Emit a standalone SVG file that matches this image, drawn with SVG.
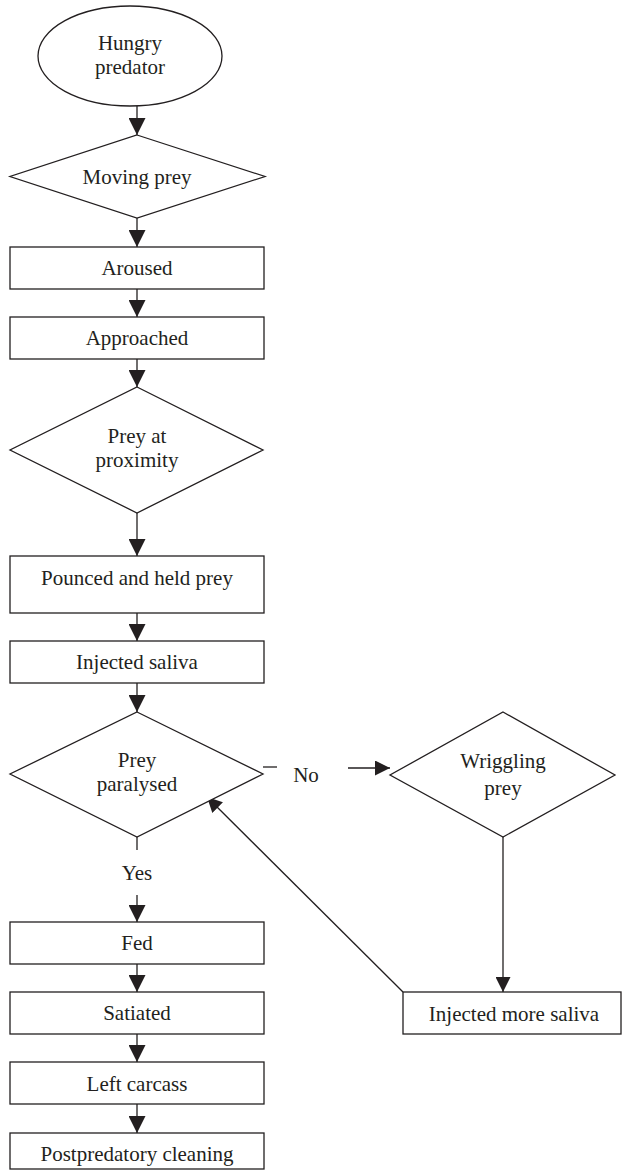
<svg xmlns="http://www.w3.org/2000/svg" width="622" height="1172" viewBox="0 0 622 1172">
<style>
.shape{fill:#fff;stroke:#231f20;stroke-width:1.3}
.ln{fill:none;stroke:#231f20;stroke-width:1.3}
.a1{marker-end:url(#ah)}
.a2{marker-end:url(#ah2)}
text{font-family:'Liberation Serif','Times New Roman',Tinos,'DejaVu Serif',serif;font-size:21px;fill:#231f20;text-anchor:middle}
</style>
<defs>
<marker id="ah" viewBox="0 0 10 10" refX="10" refY="5" markerWidth="17" markerHeight="17" markerUnits="userSpaceOnUse" orient="auto">
<path d="M0,0 L10,5 L0,10 z" fill="#231f20"/>
</marker>
<marker id="ah2" viewBox="0 0 10 10" refX="10" refY="5" markerWidth="15" markerHeight="15" markerUnits="userSpaceOnUse" orient="auto">
<path d="M0,0 L10,5 L0,10 z" fill="#231f20"/>
</marker>
</defs>
<rect width="622" height="1172" fill="#fff"/>
<g id="connectors">
<line class="ln a1" x1="137" y1="106" x2="137" y2="135"/>
<line class="ln a1" x1="137" y1="218" x2="137" y2="247"/>
<line class="ln a1" x1="137" y1="289" x2="137" y2="317"/>
<line class="ln a1" x1="137" y1="359" x2="137" y2="387"/>
<line class="ln a1" x1="137" y1="513" x2="137" y2="556"/>
<line class="ln a1" x1="137" y1="613" x2="137" y2="641"/>
<line class="ln a1" x1="137" y1="683" x2="137" y2="712"/>
<line class="ln" x1="137" y1="837" x2="137" y2="850"/>
<line class="ln a1" x1="137" y1="895" x2="137" y2="922"/>
<line class="ln a1" x1="137" y1="964" x2="137" y2="992"/>
<line class="ln a1" x1="137" y1="1034" x2="137" y2="1062"/>
<line class="ln a1" x1="137" y1="1104" x2="137" y2="1133"/>
<line class="ln" x1="263" y1="767" x2="277" y2="767"/>
<line class="ln a2" x1="348" y1="768" x2="390" y2="768"/>
<line class="ln a2" x1="503" y1="837" x2="503" y2="992"/>
<line class="ln a2" x1="403" y1="992" x2="207" y2="797"/>
<text x="306" y="782" font-family="Liberation Serif, serif">No</text>
<text x="137" y="880" font-family="Liberation Serif, serif">Yes</text>
</g>
<g id="hungry">
<ellipse class="shape" cx="130" cy="56" rx="92" ry="50"/>
<text x="130" y="50">Hungry</text>
<text x="130" y="74">predator</text>
</g>
<g id="moving">
<polygon class="shape" points="137,135 265,176.5 137,218 10,176.5"/>
<text x="137" y="184">Moving prey</text>
</g>
<g id="aroused">
<rect class="shape" x="10" y="247" width="254" height="42"/>
<text x="137" y="275">Aroused</text>
</g>
<g id="approached">
<rect class="shape" x="10" y="317" width="254" height="42"/>
<text x="137" y="345">Approached</text>
</g>
<g id="proximity">
<polygon class="shape" points="137,387 263,450 137,513 10,450"/>
<text x="137" y="443">Prey at</text>
<text x="137" y="467">proximity</text>
</g>
<g id="pounced">
<rect class="shape" x="10" y="556" width="254" height="57"/>
<text x="137" y="585">Pounced and held prey</text>
</g>
<g id="injected">
<rect class="shape" x="10" y="641" width="254" height="42"/>
<text x="137" y="669">Injected saliva</text>
</g>
<g id="paralysed">
<polygon class="shape" points="137,712 263,774 137,837 10,774"/>
<text x="137" y="767">Prey</text>
<text x="137" y="791">paralysed</text>
</g>
<g id="wriggling">
<polygon class="shape" points="503,712 615,775 503,837 390,775"/>
<text x="503" y="768">Wriggling</text>
<text x="503" y="795">prey</text>
</g>
<g id="more">
<rect class="shape" x="403" y="992" width="218" height="42"/>
<text x="514" y="1021">Injected more saliva</text>
</g>
<g id="fed">
<rect class="shape" x="10" y="922" width="254" height="42"/>
<text x="137" y="950">Fed</text>
</g>
<g id="satiated">
<rect class="shape" x="10" y="992" width="254" height="42"/>
<text x="137" y="1020">Satiated</text>
</g>
<g id="carcass">
<rect class="shape" x="10" y="1062" width="254" height="42"/>
<text x="137" y="1091">Left carcass</text>
</g>
<g id="cleaning">
<rect class="shape" x="10" y="1133" width="254" height="36"/>
<text x="137" y="1161">Postpredatory cleaning</text>
</g>
</svg>
